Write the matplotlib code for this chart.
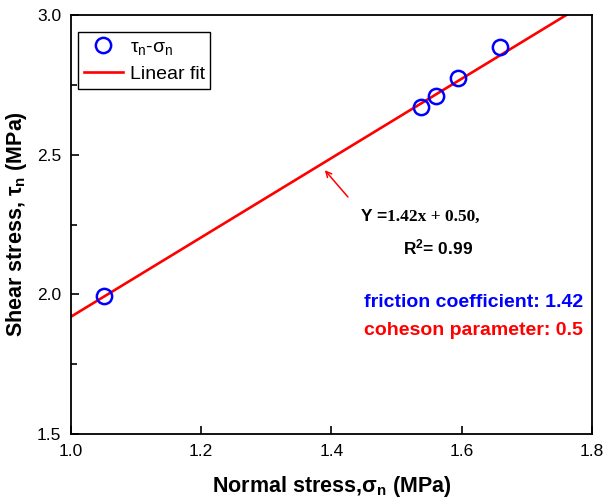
import matplotlib.pyplot as plt
import numpy as np

plt.rcParams['font.family'] = ['Liberation Sans', 'DejaVu Sans']
plt.rcParams['mathtext.fontset'] = 'custom'
plt.rcParams['mathtext.rm'] = 'Liberation Sans'
plt.rcParams['mathtext.it'] = 'Liberation Sans'
plt.rcParams['mathtext.bf'] = 'Liberation Sans:bold'

# measured points
sigma_n = [1.05, 1.537, 1.560, 1.595, 1.659]
tau_n = [1.993, 2.671, 2.711, 2.775, 2.886]

# fit shown on the chart
slope = 1.42
intercept = 0.50

fig = plt.figure(figsize=(6.06, 5.01), dpi=100)
ax = fig.add_axes([71/606, 1-434/501, 521/606, 419/501])

xf = np.array([1.0, 1.8])
ax.plot(xf, slope * xf + intercept, color='#ff0000', lw=1.9, label='Linear fit', zorder=2)
ax.plot(sigma_n, tau_n, 'o', mfc='none', mec='#0000ff', mew=1.8, ms=11,
        label=r'$\mathregular{\tau_n}$-$\mathregular{\sigma_n}$', zorder=3)

ax.set_xlim(1.0, 1.8)
ax.set_ylim(1.5, 3.0)
ax.set_xticks([1.0, 1.2, 1.4, 1.6, 1.8])
ax.set_yticks([1.5, 2.0, 2.5, 3.0])
ax.set_yticks([1.75, 2.25, 2.75], minor=True)
ax.tick_params(direction='in', labelsize=12.5, length=6, width=1.2, pad=7)
ax.tick_params(which='minor', direction='in', length=4, width=1.2)
for s in ax.spines.values():
    s.set_linewidth(1.3)

ax.set_xlabel(r'Normal stress,$\mathregular{\sigma_n}$ (MPa)', fontsize=15.5, fontweight='bold', labelpad=11)
ax.set_ylabel(r'Shear stress, $\mathregular{\tau_n}$ (MPa)', fontsize=15.5, fontweight='bold', labelpad=6)

h, l = ax.get_legend_handles_labels()
leg = ax.legend(h[::-1], l[::-1], loc='upper left', bbox_to_anchor=(0.0134, 0.959),
                borderaxespad=0, fontsize=14, fancybox=False, edgecolor='black',
                framealpha=1, handlelength=2.0, handletextpad=0.35,
                borderpad=0.3, labelspacing=0.45)
leg.get_frame().set_linewidth(1.0)

ax.annotate('', xy=(1.387, 2.452), xytext=(1.428, 2.341),
            arrowprops=dict(arrowstyle='->', color='#ff0000', lw=1.1))
ax.text(1.445, 2.277, 'Y =', fontsize=12.5, fontweight='bold', ha='left', va='center',
        family='Liberation Sans')
ax.text(1.485, 2.277, '1.42x + 0.50,', fontsize=12.5, fontweight='bold', ha='left', va='center',
        family='Liberation Serif')
ax.text(1.51, 2.169, r'R$\mathregular{^2}$= 0.99', fontsize=12.5, fontweight='bold', ha='left', va='center')

ax.text(1.786, 1.969, 'friction coefficient: 1.42', color='#0000ff', fontsize=14,
        fontweight='bold', ha='right', va='center')
ax.text(1.786, 1.869, 'coheson parameter: 0.5', color='#ff0000', fontsize=14,
        fontweight='bold', ha='right', va='center')

fig.savefig('out.png', dpi=100)
